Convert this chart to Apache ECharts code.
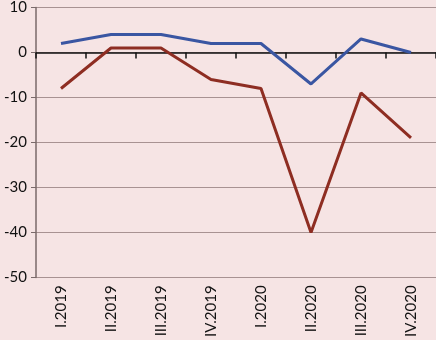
<!DOCTYPE html>
<html><head><meta charset="utf-8">
<script src="https://cdn.jsdelivr.net/npm/echarts@6/dist/echarts.min.js"></script>
<style>html,body{margin:0;padding:0;background:#f6e4e4;}#c{width:436px;height:340px;}</style>
</head><body><div id="c"></div>
<script>
const categories = ['I.2019','II.2019','III.2019','IV.2019','I.2020','II.2020','III.2020','IV.2020'];
const blueSeries = [2, 4, 4, 2, 2, -7, 3, 0];
const redSeries = [-8, 1, 1, -6, -8, -40, -9, -19];
const yTicks = [-50, -40, -30, -20, -10, 0, 10];

const chart = echarts.init(document.getElementById('c'));
const font = 'Lato, "Open Sans", sans-serif';
chart.setOption({
  backgroundColor: '#f6e4e4',
  animation: false,
  grid: {left: 36, right: 0, top: 5, bottom: 62},
  xAxis: [{
    type: 'category', data: categories, position: 'bottom',
    axisLine: {show: false, onZero: false}, axisTick: {show: false},
    axisLabel: {rotate: 90, margin: 8, color: '#111', fontSize: 15, fontFamily: font, interval: 0}
  }, {
    type: 'category', data: categories, position: 'top',
    axisLine: {show: true, onZero: true, lineStyle: {color: '#111', width: 1.5}},
    axisTick: {show: true, length: -6, lineStyle: {color: '#111', width: 1.5}},
    axisLabel: {show: false, interval: 0}
  }],
  yAxis: {
    type: 'value', min: yTicks[0], max: yTicks[yTicks.length-1], interval: 10,
    axisLine: {show: true, lineStyle: {color: '#7a6a6a', width: 1.5}},
    axisTick: {show: true, length: 5, lineStyle: {color: '#7a6a6a'}},
    axisLabel: {color: '#111', fontSize: 15, fontFamily: font, margin: 9},
    splitLine: {show: true, lineStyle: {color: '#a89292', width: 1}}
  },
  series: [{
    type: 'line', data: blueSeries, xAxisIndex: 0, symbol: 'none',
    lineStyle: {color: '#3a56a2', width: 3}
  }, {
    type: 'line', data: redSeries, xAxisIndex: 0, symbol: 'none',
    lineStyle: {color: '#8e2d22', width: 3}
  }]
});
</script></body></html>
